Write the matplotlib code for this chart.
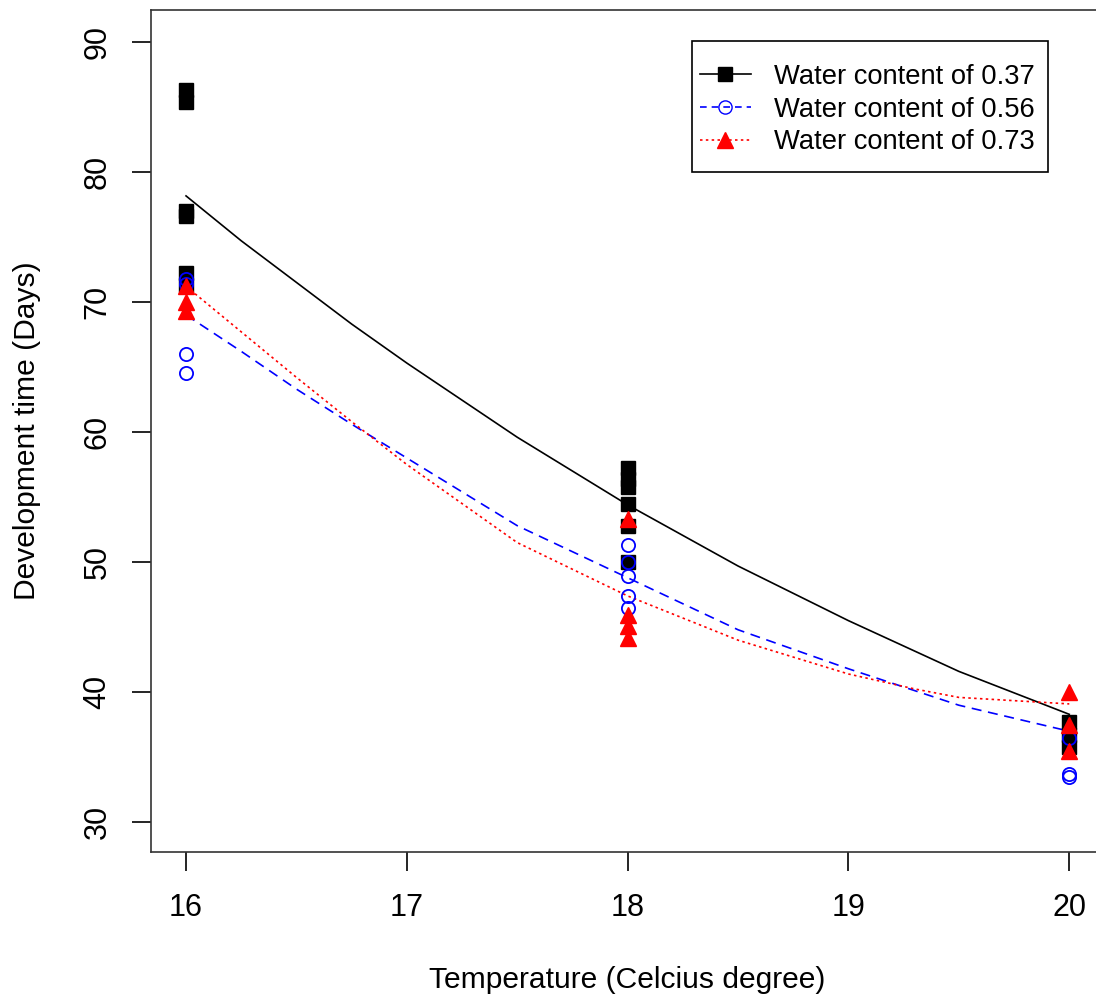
import matplotlib
matplotlib.use("Agg")
import matplotlib.pyplot as plt
from matplotlib.lines import Line2D
from matplotlib.patches import Rectangle

plt.rcParams['font.family'] = ['Liberation Sans', 'DejaVu Sans']

# Observed data points
x37 = [16, 16, 16, 16, 16, 16, 18, 18, 18, 18, 18, 18, 20, 20, 20]
y37 = [86.3, 85.4, 77.0, 76.6, 72.2, 71.3, 57.2, 56.4, 55.8, 54.5, 52.8, 50.0, 37.7, 36.7, 35.8]

x56 = [16, 16, 16, 16, 18, 18, 18, 18, 18, 20, 20, 20]
y56 = [71.8, 71.4, 66.0, 64.5, 51.3, 50.0, 48.9, 47.4, 46.5, 36.5, 33.7, 33.5]

x73 = [16, 16, 16, 18, 18, 18, 18, 20, 20, 20]
y73 = [71.2, 70.0, 69.3, 53.3, 45.9, 45.1, 44.2, 40.0, 37.5, 35.5]

# Fitted curves
fx37 = [16, 16.25, 16.5, 16.75, 17, 17.5, 18, 18.5, 19, 19.5, 20]
fy37 = [78.15, 74.7, 71.5, 68.3, 65.3, 59.6, 54.4, 49.7, 45.5, 41.6, 38.3]

fx56 = [16, 16.25, 16.5, 16.75, 17, 17.5, 18, 18.5, 19, 19.5, 20]
fy56 = [69.0, 66.2, 63.3, 60.6, 58.0, 52.8, 48.8, 44.8, 41.8, 39.0, 37.0]

fx73 = [16, 16.25, 16.5, 16.75, 17, 17.5, 18, 18.5, 19, 19.3, 19.5, 20]
fy73 = [71.2, 67.7, 64.2, 60.8, 57.5, 51.5, 47.4, 44.0, 41.4, 40.25, 39.6, 39.1]

labels = ["Water content of 0.37", "Water content of 0.56", "Water content of 0.73"]
xticks = [16, 17, 18, 19, 20]
yticks = [30, 40, 50, 60, 70, 80, 90]

W, H = 1096, 998
fig = plt.figure(figsize=(W / 100, H / 100), dpi=100)
left, right, top, bottom = 150.7, 1104.6, 10, 851.7
ax = fig.add_axes([left / W, 1 - bottom / H, (right - left) / W, (bottom - top) / H])

ax.plot(fx37, fy37, color='black', lw=1.2, ls='-')
ax.plot(fx56, fy56, color='blue', lw=1.2, ls=(0, (6, 4)))
ax.plot(fx73, fy73, color='red', lw=1.2, ls=(0, (1.5, 2)))

ax.plot(x37, y37, ls='none', marker='s', ms=9.5, color='black', mec='black')
ax.plot(x56, y56, ls='none', marker='o', ms=9.5, mfc='none', mec='blue', mew=1.3)
ax.plot(x73, y73, ls='none', marker='^', ms=11, color='red', mec='red')

ax.set_xlim(15.84, 20.16)
ax.set_ylim(27.74, 92.44)
ax.set_xticks(xticks)
ax.set_yticks(yticks)
ax.tick_params(axis='both', direction='out', length=13.5, width=1.2, labelsize=22, colors='black')
ax.tick_params(axis='x', pad=16)
ax.tick_params(axis='y', pad=14)
for lab in ax.get_yticklabels():
    lab.set_rotation(90)
    lab.set_va('center')
for s in ax.spines.values():
    s.set_linewidth(1.2)
    s.set_color('#333333')

ax.set_xlabel("Temperature (Celcius degree)", fontsize=21.6, labelpad=31)
ax.set_ylabel("Development time (Days)", fontsize=21.6, labelpad=30)

def px2ax(px, py):
    return (px - left) / (right - left), (bottom - py) / (bottom - top)

# legend frame
bx0, by0 = px2ax(692, 172)
bx1, by1 = px2ax(1048, 41)
ax.add_patch(Rectangle((bx0, by0), bx1 - bx0, by1 - by0, transform=ax.transAxes,
                       fill=True, facecolor='white', edgecolor='black', lw=1.2, zorder=4))

handles = [
    Line2D([], [], color='black', lw=1.2, ls='-', marker='s', ms=9.5),
    Line2D([], [], color='blue', lw=1.2, ls=(0, (4, 3)), marker='o', ms=9.5, mfc='none', mec='blue'),
    Line2D([], [], color='red', lw=1.2, ls=(0, (1.5, 2)), marker='^', ms=11),
]
ax_l = px2ax(700, 64)
leg = ax.legend(handles, labels, loc='upper left', bbox_to_anchor=ax_l,
                borderaxespad=0, fontsize=19.7, frameon=False,
                handlelength=1.85, handletextpad=0.85,
                borderpad=0, labelspacing=0.24)
leg.set_zorder(5)

fig.savefig("out.png", dpi=100)
